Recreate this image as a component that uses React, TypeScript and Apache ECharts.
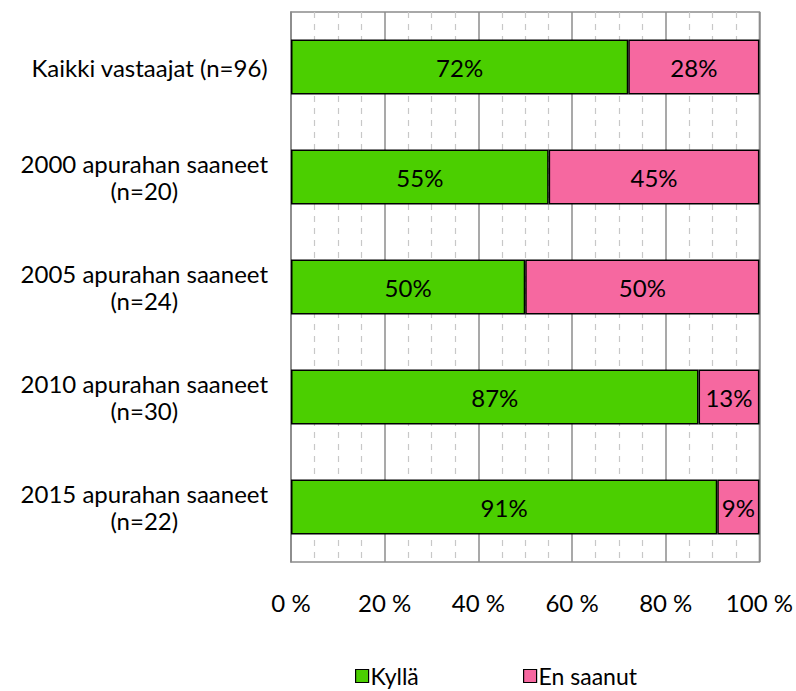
import React, { useEffect, useRef } from "react";
import * as echarts from "echarts";

const categories = [
  "Kaikki vastaajat (n=96)",
  "2000 apurahan saaneet\n(n=20)",
  "2005 apurahan saaneet\n(n=24)",
  "2010 apurahan saaneet\n(n=30)",
  "2015 apurahan saaneet\n(n=22)",
];
const kylla = [72, 55, 50, 87, 91];
const enSaanut = [28, 45, 50, 13, 9];
const seriesNames = ["Kyllä", "En saanut"];
const xTicks = [0, 20, 40, 60, 80, 100];

const FONT = "Lato";
const FS = 24;

export default function App() {
  const ref = useRef<HTMLDivElement>(null);
  useEffect(() => {
    if (!ref.current) return;
    const chart = echarts.init(ref.current, undefined, { renderer: "svg" });
    const labelStyle = {
      show: true,
      position: "inside",
      color: "#000",
      fontFamily: FONT,
      fontSize: FS,
      formatter: (p: any) => p.value + "%",
    };
    const legendText = { fontFamily: FONT, fontSize: 23, lineHeight: 24, color: "#000", padding: [0, 0, 0, -3] };
    const legendBase = {
      top: 664,
      padding: 0,
      itemWidth: 13,
      itemHeight: 13,
      icon: "rect",
      textStyle: legendText,
      itemStyle: { borderColor: "#000", borderWidth: 1.2 },
    };
    chart.setOption({
      animation: false,
      backgroundColor: "#fff",
      textStyle: { fontFamily: FONT },
      grid: {
        left: 291,
        right: 35,
        top: 12,
        bottom: 129,
        show: true,
        borderColor: "#8c8c8c",
        borderWidth: 1.5,
        containLabel: false,
      },
      legend: [
        { ...legendBase, left: 355, data: [seriesNames[0]] },
        { ...legendBase, left: 523, data: [seriesNames[1]] },
      ],
      xAxis: {
        type: "value",
        min: 0,
        max: 100,
        interval: 20,
        axisLine: { show: false },
        axisTick: { show: false },
        axisLabel: {
          margin: 28,
          fontFamily: FONT,
          fontSize: FS,
          color: "#000",
          formatter: (v: number) => (xTicks.includes(v) ? v + " %" : ""),
        },
        splitLine: { show: true, lineStyle: { color: "#8c8c8c", width: 1.5 } },
        minorTick: { show: false, splitNumber: 4 },
        minorSplitLine: { show: true, lineStyle: { color: "#c8c8c8", width: 1.2, type: [6, 6] } },
      },
      yAxis: {
        type: "category",
        inverse: true,
        data: categories,
        axisLine: { show: true, lineStyle: { color: "#8c8c8c", width: 1.5 } },
        axisTick: { show: false },
        axisLabel: {
          margin: 23,
          color: "#000",
          fontFamily: FONT,
          fontSize: FS,
          lineHeight: 27,
          formatter: (v: string) =>
            v
              .split("\n")
              .map((l) => "{c|" + l + "}")
              .join("\n"),
          rich: { c: { align: "center", fontFamily: FONT, fontSize: FS, lineHeight: 27, color: "#000" } },
        },
      },
      series: [
        {
          name: seriesNames[0],
          type: "bar",
          stack: "all",
          barWidth: "50%",
          data: kylla,
          itemStyle: { color: "#4bcf00", borderColor: "#000", borderWidth: 1.5 },
          label: labelStyle,
        },
        {
          name: seriesNames[1],
          type: "bar",
          stack: "all",
          barWidth: "50%",
          data: enSaanut,
          itemStyle: { color: "#f668a0", borderColor: "#000", borderWidth: 1.5 },
          label: labelStyle,
        },
      ],
    });
    return () => chart.dispose();
  }, []);
  return (
    <div
      ref={ref}
      style={{ position: "fixed", left: 0, top: 0, width: 796, height: 691 }}
    />
  );
}
